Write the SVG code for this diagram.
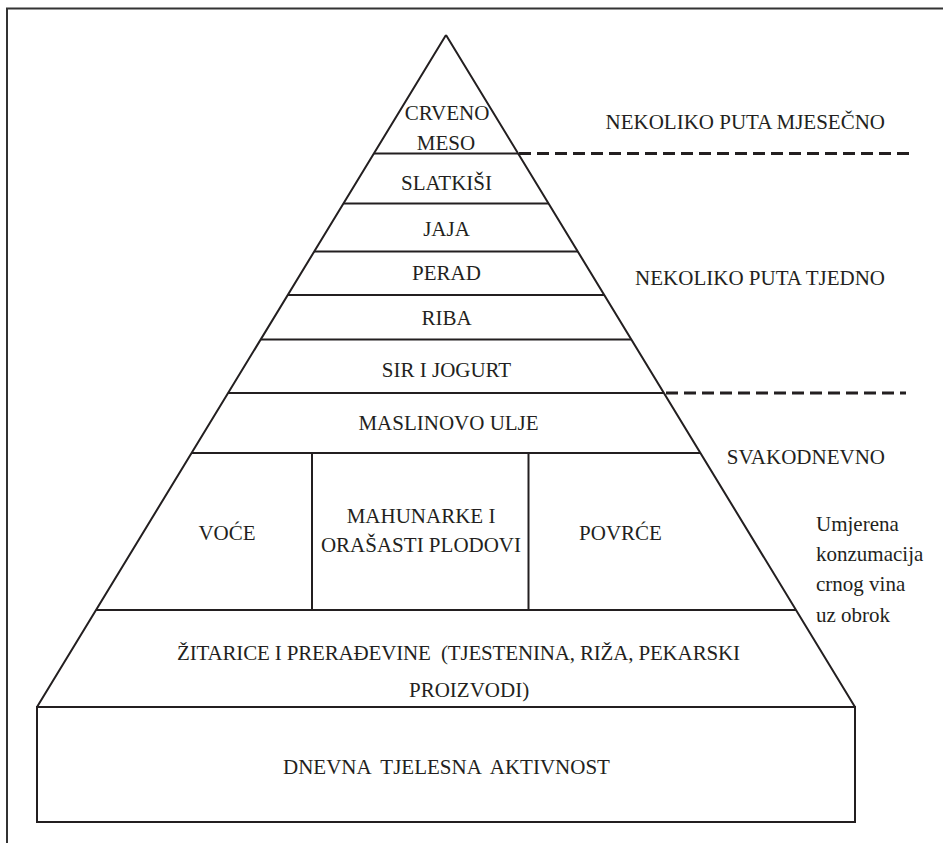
<svg xmlns="http://www.w3.org/2000/svg" width="943" height="843" viewBox="0 0 943 843">
<style>
.ln{stroke:#231f20;stroke-width:2;fill:none}
.dash{stroke:#231f20;stroke-width:3;stroke-dasharray:12 6;fill:none}
.frame{stroke:#333;stroke-width:2;fill:none}
text{font-family:"Liberation Serif","Times New Roman",serif;font-size:21px;fill:#231f20}
.c{text-anchor:middle}
.r{text-anchor:end}
</style>
<rect width="943" height="843" fill="#fff"/>
<path class="frame" d="M943 8.5H7V843"/>
<g id="connectors">
<line class="dash" x1="519" y1="153.5" x2="909" y2="153.5"/>
<line class="dash" x1="666" y1="393" x2="906" y2="393"/>
</g>
<g id="pyramid">
<path class="ln" d="M446 35L37 707M446 35L855 707"/>
</g>
<g id="crveno-meso"><text class="c" x="447" y="120">CRVENO</text><text class="c" x="446" y="150">MESO</text></g>
<g id="slatkisi"><line class="ln" x1="374" y1="153.5" x2="518" y2="153.5"/><text class="c" x="446.5" y="190">SLATKIŠI</text></g>
<g id="jaja"><line class="ln" x1="343.5" y1="203.5" x2="549" y2="203.5"/><text class="c" x="446.5" y="236">JAJA</text></g>
<g id="perad"><line class="ln" x1="314" y1="251.5" x2="578" y2="251.5"/><text class="c" x="446.5" y="280">PERAD</text></g>
<g id="riba"><line class="ln" x1="288" y1="295" x2="604" y2="295"/><text class="c" x="446.5" y="324.5">RIBA</text></g>
<g id="sir-i-jogurt"><line class="ln" x1="261" y1="339.5" x2="631" y2="339.5"/><text class="c" x="446.5" y="377">SIR I JOGURT</text></g>
<g id="maslinovo-ulje"><line class="ln" x1="228" y1="393" x2="664" y2="393"/><text class="c" x="448.5" y="429.5">MASLINOVO ULJE</text></g>
<g id="voce"><line class="ln" x1="191.5" y1="453" x2="700.5" y2="453"/><text class="c" x="227" y="539.5">VOĆE</text></g>
<g id="mahunarke"><line class="ln" x1="312" y1="453" x2="312" y2="610"/><line class="ln" x1="528.5" y1="453" x2="528.5" y2="610"/><text class="c" x="421" y="523">MAHUNARKE I</text><text class="c" x="421" y="552">ORAŠASTI PLODOVI</text></g>
<g id="povrce"><text class="c" x="620.5" y="539.5">POVRĆE</text></g>
<g id="zitarice"><line class="ln" x1="96" y1="610" x2="796" y2="610"/><text x="177" y="660" textLength="563" lengthAdjust="spacing" xml:space="preserve">ŽITARICE I PRERAĐEVINE  (TJESTENINA, RIŽA, PEKARSKI</text><text x="409" y="697">PROIZVODI)</text></g>
<g id="aktivnost"><rect class="ln" x="37" y="707" width="818" height="115"/><text x="283" y="774" word-spacing="5">DNEVNA TJELESNA AKTIVNOST</text></g>
<g id="freq-mjesecno"><text class="r" x="885" y="128.5">NEKOLIKO PUTA MJESEČNO</text></g>
<g id="freq-tjedno"><text class="r" x="885" y="284.5">NEKOLIKO PUTA TJEDNO</text></g>
<g id="freq-svakodnevno"><text class="r" x="885" y="463.5">SVAKODNEVNO</text></g>
<g id="vino"><text x="816" y="531">Umjerena</text><text x="816" y="561">konzumacija</text><text x="816" y="590.5">crnog vina</text><text x="816" y="621.5">uz obrok</text></g>
</svg>
